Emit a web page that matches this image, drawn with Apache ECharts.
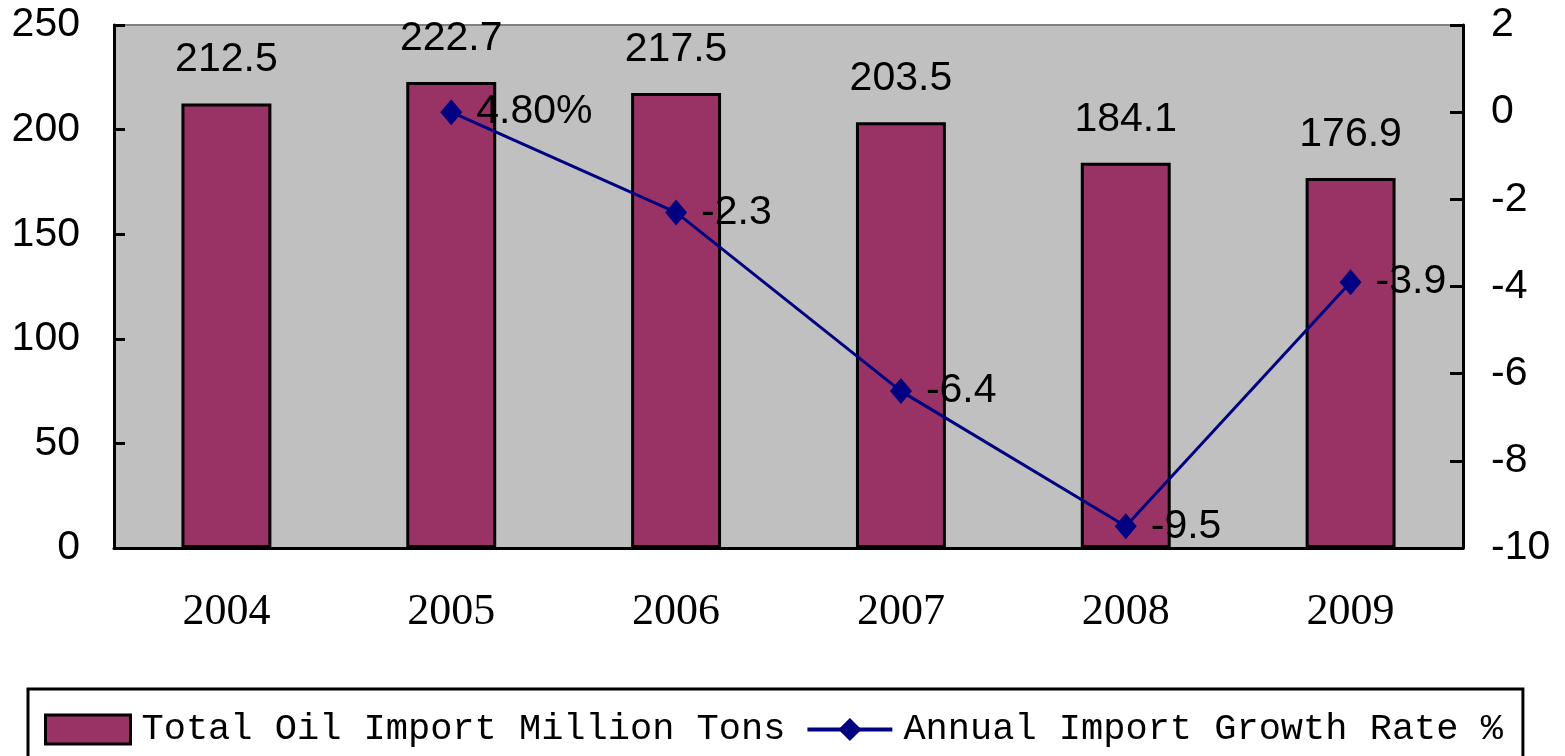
<!DOCTYPE html>
<html>
<head>
<meta charset="utf-8">
<script src="https://cdn.jsdelivr.net/npm/echarts@6/dist/echarts.min.js"></script>
<style>
  html, body { margin: 0; padding: 0; background: #fff; }
  #chart { width: 1565px; height: 756px; }
</style>
</head>
<body>
<div id="chart"></div>
<script>
// values
const years = ["2004", "2005", "2006", "2007", "2008", "2009"];
const oilImport = [212.5, 222.7, 217.5, 203.5, 184.1, 176.9];
const growthRate = [null, 0, -2.3, -6.4, -9.5, -3.9];
const growthLabels = ["", "4.80%", "-2.3", "-6.4", "-9.5", "-3.9"];
const leftTicks = { min: 0, max: 250, interval: 50 };
const rightTicks = { min: -10, max: 2, interval: 2 };

const sans = "Liberation Sans, Arial, sans-serif";

const chart = echarts.init(document.getElementById("chart"));
const option = {
  animation: false,
  grid: {
    left: 114,
    right: 102,
    top: 25,
    bottom: 208,
    show: true,
    backgroundColor: "#C0C0C0",
    borderColor: "#808080",
    borderWidth: 2
  },
  legend: {
    left: 28,
    top: 689,
    padding: [22, 20, 40, 16],
    itemGap: 20,
    itemWidth: 85,
    itemHeight: 29,
    borderColor: "#000",
    borderWidth: 3,
    textStyle: {
      fontFamily: "Liberation Mono, monospace",
      fontSize: 37,
      color: "#000",
      padding: [0, 0, 0, 6]
    },
    data: [
      {
        name: "Total Oil Import Million Tons",
        icon: "rect",
        itemStyle: { color: "#993366", borderColor: "#000", borderWidth: 3 }
      },
      {
        name: "Annual Import Growth Rate %",
        lineStyle: { width: 4, color: "#000080" }
      }
    ]
  },
  xAxis: {
    type: "category",
    data: years,
    axisLine: { lineStyle: { color: "#000", width: 3 } },
    axisTick: { inside: true, length: 11, lineStyle: { color: "#000", width: 3 } },
    axisLabel: {
      margin: 42,
      fontFamily: "Liberation Serif, serif",
      fontSize: 44,
      color: "#000"
    }
  },
  yAxis: [
    {
      type: "value",
      min: leftTicks.min,
      max: leftTicks.max,
      interval: leftTicks.interval,
      splitLine: { show: false },
      axisLine: { show: true, lineStyle: { color: "#000", width: 3 } },
      axisTick: { show: true, inside: true, length: 11, lineStyle: { color: "#000", width: 3 } },
      axisLabel: { margin: 34, fontFamily: sans, fontSize: 41, color: "#000" }
    },
    {
      type: "value",
      position: "right",
      min: rightTicks.min,
      max: rightTicks.max,
      interval: rightTicks.interval,
      splitLine: { show: false },
      axisLine: { show: true, lineStyle: { color: "#000", width: 3 } },
      axisTick: { show: true, inside: true, length: 13, lineStyle: { color: "#000", width: 3 } },
      axisLabel: { margin: 28, fontFamily: sans, fontSize: 41, color: "#000" }
    }
  ],
  series: [
    {
      name: "Total Oil Import Million Tons",
      type: "bar",
      data: oilImport,
      barWidth: "40%",
      itemStyle: { color: "#993366", borderColor: "#000", borderWidth: 3 },
      label: {
        show: true,
        position: "top",
        distance: 23,
        fontFamily: sans,
        fontSize: 41,
        color: "#000"
      }
    },
    {
      name: "Annual Import Growth Rate %",
      type: "line",
      yAxisIndex: 1,
      data: growthRate,
      symbol: "diamond",
      symbolSize: [22, 26],
      lineStyle: { color: "#000080", width: 3 },
      itemStyle: { color: "#000080" },
      label: {
        show: true,
        position: "right",
        distance: 14,
        fontFamily: sans,
        fontSize: 41,
        color: "#000",
        formatter: p => growthLabels[p.dataIndex]
      }
    }
  ]
};
chart.setOption(option);
</script>
</body>
</html>
